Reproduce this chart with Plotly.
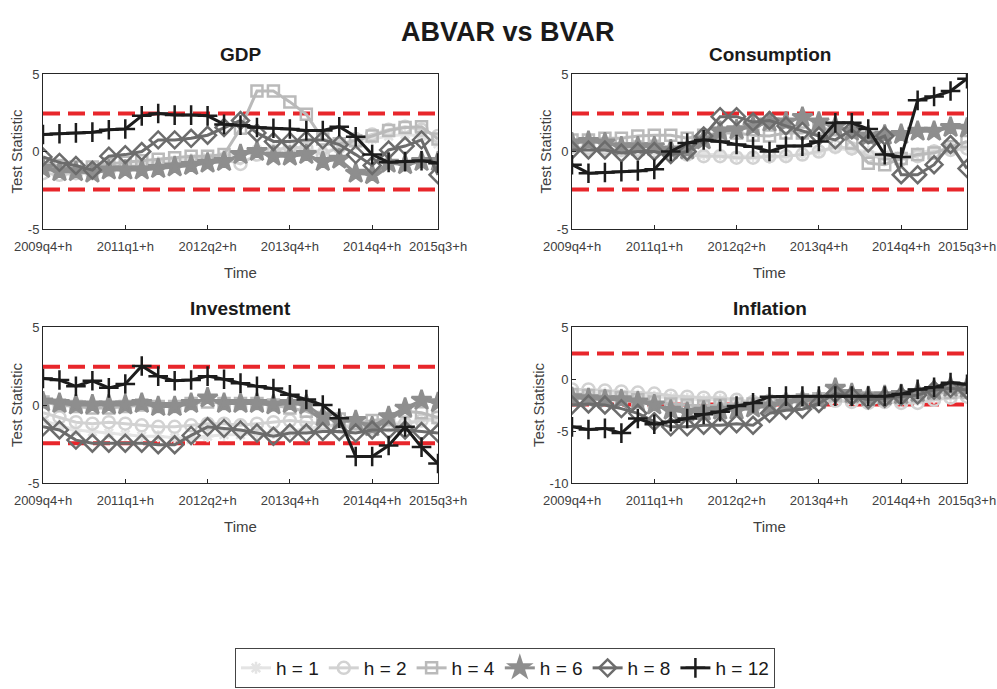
import plotly.graph_objects as go

periods = list(range(1, 26))
tick_pos = [1, 6, 11, 16, 21, 25]
tick_labels = ["2009q4+h", "2011q1+h", "2012q2+h", "2013q4+h", "2014q4+h", "2015q3+h"]
horizons = ["h = 1", "h = 2", "h = 4", "h = 6", "h = 8", "h = 12"]
crit = 2.45

gdp_h1 = [-1.0,-1.1,-1.2,-1.2,-1.0,-0.9,-0.8,-0.7,-0.6,-0.5,-0.4,-0.3,-0.2,0.1,0.2,0.2,0.1,0.0,0.2,0.5,0.8,1.0,1.1,1.0,0.5]
gdp_h2 = [-1.4,-1.5,-1.4,-1.4,-1.2,-1.1,-1.0,-0.9,-0.8,-0.7,-0.6,-0.5,-0.8,-0.2,0.0,0.3,0.2,-0.2,0.3,0.8,1.1,1.4,1.6,1.4,1.0]
gdp_h4 = [-0.8,-0.9,-1.0,-1.0,-0.8,-0.7,-0.6,-0.5,-0.4,-0.3,-0.3,-0.2,1.5,3.9,3.9,3.2,2.4,0.8,0.5,0.7,1.0,1.35,1.55,1.6,0.8]
gdp_h6 = [-1.1,-1.3,-1.3,-1.4,-1.2,-1.2,-1.2,-1.1,-1.0,-0.9,-0.75,-0.65,-0.2,0.0,-0.3,-0.3,-0.2,-0.65,-0.5,-1.4,-1.5,-0.75,-0.85,-0.65,-0.65]
gdp_h8 = [-0.35,-0.7,-0.9,-1.2,-0.3,-0.2,0.0,0.75,0.75,0.85,1.05,1.55,2.0,1.2,0.65,0.65,0.75,0.75,0.45,-0.2,-0.9,0.1,0.35,0.75,-1.5]
gdp_h12 = [1.1,1.15,1.2,1.25,1.4,1.45,2.3,2.45,2.35,2.35,2.3,1.75,1.7,1.55,1.5,1.45,1.35,1.35,1.6,0.95,-0.2,-0.7,-0.65,-0.6,-0.75]

con_h1 = [0.2,0.1,0.1,0.0,0.0,0.0,0.0,-0.1,-0.2,-0.2,-0.3,-0.3,-0.4,-0.3,-0.2,0.0,0.2,0.1,0.0,-0.2,-0.3,-0.1,0.1,0.2,0.3]
con_h2 = [0.3,0.2,0.2,0.1,0.1,0.0,-0.1,-0.2,-0.3,-0.3,-0.4,-0.4,-0.3,-0.3,-0.2,0.0,0.3,0.2,-0.3,-0.4,-0.5,-0.3,0.0,0.1,0.2]
con_h4 = [0.75,0.75,0.85,0.85,1.0,1.05,1.05,0.85,1.05,1.2,1.2,1.05,1.0,1.2,1.2,1.5,1.4,0.55,-0.75,-0.85,-0.45,-0.2,-0.1,0.3,0.65]
con_h6 = [0.55,0.65,0.55,0.3,0.3,0.3,0.1,0.1,0.75,1.3,1.4,1.6,1.9,1.9,2.2,1.9,1.6,1.3,1.0,1.05,1.1,1.3,1.3,1.55,1.5]
con_h8 = [0.1,0.1,0.1,-0.1,0.0,0.0,-0.2,0.0,1.0,2.25,2.25,1.9,2.0,1.65,1.3,1.0,0.75,1.4,0.55,1.0,-1.5,-1.5,-0.85,0.45,-1.1]
con_h12 = [-0.85,-1.4,-1.35,-1.3,-1.25,-1.15,0.0,0.55,0.75,0.65,0.45,0.3,0.0,0.35,0.35,0.65,1.85,1.85,1.45,-0.2,-0.35,3.3,3.55,3.9,4.7]

inv_h1 = [-1.0,-1.3,-1.6,-1.7,-1.8,-1.9,-2.0,-2.0,-2.1,-2.2,-2.0,-1.9,-1.9,-1.8,-1.8,-1.7,-1.5,-1.4,-1.3,-1.3,-1.3,-1.2,-1.1,-1.0,-1.0]
inv_h2 = [-0.5,-0.8,-1.1,-1.2,-1.1,-1.2,-1.3,-1.4,-1.4,-1.3,-1.2,-1.2,-1.3,-1.2,-1.1,-1.0,-1.1,-1.2,-1.4,-1.4,-1.5,-1.3,-1.2,-1.0,-0.8]
inv_h4 = [0.2,0.0,-0.1,-0.2,-0.2,-0.1,0.0,-0.1,-0.1,0.1,0.2,0.1,0.1,0.1,0.0,-0.2,-0.4,-0.8,-0.9,-1.2,-1.0,-0.9,-0.4,-0.5,-0.8]
inv_h6 = [0.2,0.1,0.0,0.0,0.0,0.0,0.1,-0.1,-0.1,0.1,0.45,0.1,0.1,0.1,0.0,0.1,0.0,-0.75,-1.05,-1.0,-1.4,-0.75,-0.2,0.3,0.15]
inv_h8 = [-1.4,-1.6,-2.25,-2.45,-2.45,-2.45,-2.45,-2.55,-2.55,-1.95,-1.4,-1.5,-1.6,-1.8,-2.0,-1.8,-1.8,-1.7,-1.7,-1.8,-1.6,-1.6,-1.6,-1.7,-1.8]
inv_h12 = [1.7,1.6,1.2,1.55,1.1,1.35,2.5,1.85,1.55,1.6,1.85,1.65,1.4,1.2,1.05,0.65,0.35,0.0,-0.85,-3.3,-3.3,-2.6,-1.4,-2.7,-3.75]

inf_h1 = [-1.3,-1.4,-1.4,-1.5,-1.6,-1.7,-1.8,-1.9,-2.0,-2.0,-2.1,-2.2,-2.2,-2.2,-2.1,-2.0,-2.0,-2.1,-2.2,-2.2,-2.1,-2.0,-1.8,-1.6,-1.5]
inf_h2 = [-1.0,-1.0,-1.1,-1.2,-1.3,-1.4,-1.6,-1.7,-1.8,-1.8,-2.0,-2.2,-2.1,-2.1,-2.0,-2.0,-2.1,-2.2,-2.3,-2.2,-2.3,-2.3,-2.0,-1.8,-1.7]
inf_h4 = [-1.5,-1.6,-1.7,-1.8,-2.0,-2.2,-2.4,-2.5,-2.6,-2.5,-2.4,-2.4,-2.3,-2.2,-2.0,-1.9,-1.6,-1.7,-1.8,-1.9,-1.8,-1.6,-1.4,-1.3,-1.3]
inf_h6 = [-1.8,-1.9,-2.0,-2.0,-2.2,-2.5,-3.0,-3.2,-3.1,-3.0,-3.0,-2.8,-2.6,-2.3,-2.1,-2.0,-0.9,-1.4,-1.7,-1.6,-1.5,-1.3,-1.1,-0.8,-0.9]
inf_h8 = [-2.5,-2.4,-2.5,-2.85,-3.3,-4.1,-4.6,-4.6,-4.45,-4.45,-4.3,-4.45,-3.3,-3.0,-2.9,-2.35,-1.4,-1.65,-2.0,-1.85,-1.65,-1.55,-1.05,-0.9,-1.05]
inf_h12 = [-4.6,-4.85,-4.75,-5.2,-3.8,-4.35,-4.1,-3.8,-3.4,-3.15,-2.6,-2.3,-1.7,-1.65,-1.65,-1.65,-1.65,-1.65,-1.65,-1.65,-1.45,-1.0,-0.8,-0.35,-0.5]

panels = [
    ("GDP", [gdp_h1, gdp_h2, gdp_h4, gdp_h6, gdp_h8, gdp_h12], [-5, 5], [-5, 0, 5]),
    ("Consumption", [con_h1, con_h2, con_h4, con_h6, con_h8, con_h12], [-5, 5], [-5, 0, 5]),
    ("Investment", [inv_h1, inv_h2, inv_h4, inv_h6, inv_h8, inv_h12], [-5, 5], [-5, 0, 5]),
    ("Inflation", [inf_h1, inf_h2, inf_h4, inf_h6, inf_h8, inf_h12], [-10, 5], [-10, -5, 0, 5]),
]

colors = ["#e4e4e4", "#d2d2d2", "#bababa", "#8e8e8e", "#6c6c6c", "#1c1c1c"]
symbols = ["asterisk-open", "circle-open", "square-open", "star", "diamond-open", "cross-thin-open"]
sizes = [10, 12, 11, 15, 13, 14]

W, H = 997, 689
px_x = [(43, 438), (572, 967), (43, 438), (572, 967)]
px_y = [(74, 229), (74, 229), (327, 483), (327, 483)]

font_main = "Liberation Sans, Arial"
fig = go.Figure()
layout = dict(
    width=W, height=H, margin=dict(l=0, r=0, t=0, b=0, autoexpand=False),
    paper_bgcolor="white", plot_bgcolor="white",
    font=dict(family=font_main, color="#262626"),
    showlegend=True,
)
annotations = []
for i, (name, series, yr, yt) in enumerate(panels):
    n = i + 1
    xa = "x" if n == 1 else f"x{n}"
    ya = "y" if n == 1 else f"y{n}"
    for c in (crit, -crit):
        fig.add_trace(go.Scatter(x=[periods[0], periods[-1]], y=[c, c], mode="lines",
                                 line=dict(color="#e8262b", width=4, dash="17px,8px"),
                                 showlegend=False, hoverinfo="skip", xaxis=xa, yaxis=ya))
    for k, vals in enumerate(series):
        fig.add_trace(go.Scatter(
            x=periods, y=vals, mode="lines+markers", name=horizons[k],
            line=dict(color=colors[k], width=3),
            marker=dict(symbol=symbols[k], size=sizes[k], color=colors[k],
                        line=dict(color=colors[k], width=2.5)),
            showlegend=(i == 0), xaxis=xa, yaxis=ya))
    x0, x1 = px_x[i]
    y0, y1 = px_y[i]
    axkw = dict(showline=True, linecolor="#262626", linewidth=1, mirror=True,
                ticks="inside", ticklen=4, tickcolor="#262626", showgrid=False, zeroline=False,
                automargin=False, tickfont=dict(size=13, color="#404040"))
    layout["xaxis" if n == 1 else f"xaxis{n}"] = dict(
        domain=[x0 / W, x1 / W], range=[1, 25], tickvals=tick_pos, ticktext=tick_labels,
        anchor=ya, ticklabelstandoff=5,
        title=dict(text="Time", font=dict(size=15, color="#404040"), standoff=14), **axkw)
    layout["yaxis" if n == 1 else f"yaxis{n}"] = dict(
        domain=[1 - y1 / H, 1 - y0 / H], range=yr, tickvals=yt,
        ticktext=[str(v) for v in yt], anchor=xa,
        title=dict(text="Test Statistic", font=dict(size=15, color="#404040"), standoff=1), **axkw)
    annotations.append(dict(text=f"<b>{name}</b>", x=(x0 + x1) / 2 / W, y=1 - (y0 - 19) / H,
                            xref="paper", yref="paper", showarrow=False,
                            font=dict(size=19, color="#1a1a1a"), xanchor="center", yanchor="middle"))

annotations.append(dict(text="<b>ABVAR vs BVAR</b>", x=508 / W, y=1 - 32 / H, xref="paper", yref="paper",
                        showarrow=False, font=dict(size=27, color="#1a1a1a"),
                        xanchor="center", yanchor="middle"))
layout["annotations"] = annotations
layout["legend"] = dict(orientation="h", x=505 / W, y=1 - 668 / H, xanchor="center", yanchor="middle",
                        bordercolor="#444444", borderwidth=1, bgcolor="white",
                        font=dict(size=19, color="#1a1a1a"), itemwidth=30, tracegroupgap=0)
fig.update_layout(**layout)
fig.write_html("out.html", config={"displayModeBar": False},
               post_script="document.body.style.margin='0';document.body.style.overflow='hidden';")
